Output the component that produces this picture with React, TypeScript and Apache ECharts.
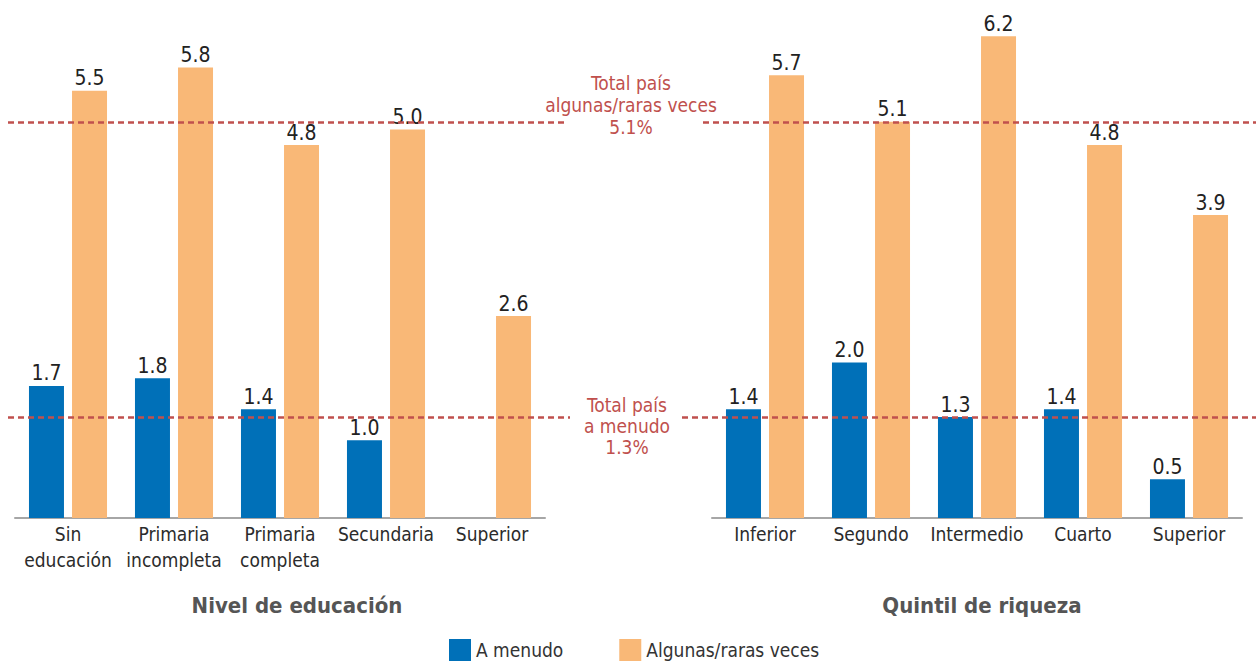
import React, { useEffect, useRef } from "react";
import * as echarts from "echarts";

const eduCategories = ["Sin\neducación", "Primaria\nincompleta", "Primaria\ncompleta", "Secundaria", "Superior"];
const eduMenudo: (number | null)[] = [1.7, 1.8, 1.4, 1.0, null];
const eduAlgunas = [5.5, 5.8, 4.8, 5.0, 2.6];

const wealthCategories = ["Inferior", "Segundo", "Intermedio", "Cuarto", "Superior"];
const wealthMenudo = [1.4, 2.0, 1.3, 1.4, 0.5];
const wealthAlgunas = [5.7, 5.1, 6.2, 4.8, 3.9];

const totalAlgunas = 5.1;
const totalMenudo = 1.3;

const seriesNames = ["A menudo", "Algunas/raras veces"];
const titles = ["Nivel de educación", "Quintil de riqueza"];

const BLUE = "#0070b8";
const ORANGE = "#f9b877";
const RED = "#c0504d";
const FONT = "'Liberation Sans Narrow', 'DejaVu Sans Condensed', 'Roboto Condensed', 'Liberation Sans', sans-serif";

export default function App() {
  const ref = useRef<HTMLDivElement>(null);
  useEffect(() => {
    document.body.style.margin = "0";
    const chart = echarts.init(ref.current!, null, { renderer: "svg" });
    const gridTop = 13;
    const gridH = 505;
    const yMax = 6.5;
    const catAxis = (idx: number, data: string[]) => ({
      type: "category",
      gridIndex: idx,
      data,
      axisTick: { show: false },
      axisLine: { lineStyle: { color: "#a6a6a6", width: 2 } },
      axisLabel: { color: "#2b2b2b", fontSize: 19, fontFamily: FONT, margin: 3, lineHeight: 26, interval: 0 },
    });
    const valAxis = (idx: number) => ({
      type: "value",
      gridIndex: idx,
      min: 0,
      max: yMax,
      show: false,
      splitLine: { show: false },
    });
    const label = {
      show: true,
      position: "top",
      distance: 2,
      color: "#222",
      fontSize: 21,
      fontFamily: FONT,
      formatter: (p: any) => (p.value == null ? "" : Number(p.value).toFixed(1)),
    };
    const bar = (name: string, color: string, idx: number, data: (number | null)[]) => ({
      type: "bar",
      name,
      xAxisIndex: idx,
      yAxisIndex: idx,
      data,
      barWidth: 35,
      barGap: "23%",
      itemStyle: { color },
      label,
      z: 2,
    });
    const dash = { type: [6, 4], width: 2.5, color: RED };
    chart.setOption({
      animation: false,
      grid: [
        { left: 15, width: 530, top: gridTop, height: gridH },
        { left: 712, width: 530, top: gridTop, height: gridH },
        { left: 0, width: 1256, top: gridTop, height: gridH },
      ],
      xAxis: [
        catAxis(0, eduCategories),
        catAxis(1, wealthCategories),
        { type: "value", gridIndex: 2, min: 0, max: 1256, show: false },
      ],
      yAxis: [valAxis(0), valAxis(1), valAxis(2)],
      legend: {
        data: seriesNames,
        left: 444,
        top: 634,
        itemWidth: 22,
        itemHeight: 22,
        itemGap: 56,
        icon: "rect",
        textStyle: { color: "#333", fontSize: 19, fontFamily: FONT, padding: [0, 0, 0, 0] },
      },
      series: [
        bar(seriesNames[0], BLUE, 0, eduMenudo),
        bar(seriesNames[1], ORANGE, 0, eduAlgunas),
        bar(seriesNames[0], BLUE, 1, wealthMenudo),
        bar(seriesNames[1], ORANGE, 1, wealthAlgunas),
        {
          type: "line",
          xAxisIndex: 2,
          yAxisIndex: 2,
          data: [],
          z: 10,
          markLine: {
            silent: true,
            symbol: "none",
            label: { show: false },
            lineStyle: dash,
            data: [
              [{ coord: [8, totalAlgunas] }, { coord: [565, totalAlgunas] }],
              [{ coord: [703, totalAlgunas] }, { coord: [1256, totalAlgunas] }],
              [{ coord: [8, totalMenudo] }, { coord: [570, totalMenudo] }],
              [{ coord: [682, totalMenudo] }, { coord: [1256, totalMenudo] }],
            ],
          },
        },
      ],
      graphic: [
        {
          type: "text",
          x: 631,
          y: 105,
          z: 20,
          style: {
            text: `Total país\nalgunas/raras veces\n${totalAlgunas.toFixed(1)}%`,
            fill: RED,
            fontSize: 19,
            fontFamily: FONT,
            lineHeight: 22,
            align: "center",
            verticalAlign: "middle",
          },
        },
        {
          type: "text",
          x: 627,
          y: 426,
          z: 20,
          style: {
            text: `Total país\na menudo\n${totalMenudo.toFixed(1)}%`,
            fill: RED,
            fontSize: 19,
            fontFamily: FONT,
            lineHeight: 21,
            align: "center",
            verticalAlign: "middle",
          },
        },
        {
          type: "text",
          x: 297,
          y: 605,
          style: {
            text: titles[0],
            fill: "#555",
            fontSize: 22,
            fontWeight: "bold",
            fontFamily: FONT,
            align: "center",
            verticalAlign: "middle",
          },
        },
        {
          type: "text",
          x: 982,
          y: 605,
          style: {
            text: titles[1],
            fill: "#555",
            fontSize: 22,
            fontWeight: "bold",
            fontFamily: FONT,
            align: "center",
            verticalAlign: "middle",
          },
        },
      ],
    });
    return () => chart.dispose();
  }, []);
  return <div ref={ref} style={{ width: 1256, height: 663 }} />;
}
